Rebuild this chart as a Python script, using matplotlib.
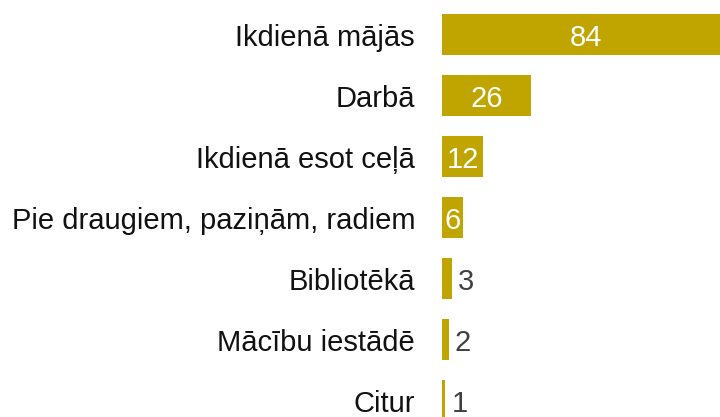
import matplotlib.pyplot as plt

# data
categories = ["Ikdienā mājās", "Darbā", "Ikdienā esot ceļā",
              "Pie draugiem, paziņām, radiem", "Bibliotēkā",
              "Mācību iestādē", "Citur"]
values = [84, 26, 12, 6, 3, 2, 1]

bar_color = "#C0A400"
W, H = 720, 417

plt.rcParams["font.family"] = ["Liberation Sans", "DejaVu Sans"]

fig = plt.figure(figsize=(7.2, 4.17), dpi=100)

# axes runs past the right/bottom edge so the chart is clipped like the original
left_px, top_px = 442, 4
px_per_unit = 3.42
row_px = 61
ax_w = values[0] * px_per_unit
ax_h = row_px * len(categories)
ax = fig.add_axes([left_px / W, 1 - (top_px + ax_h) / H, ax_w / W, ax_h / H])

ypos = list(range(len(categories)))
ax.barh(ypos, values, height=0.67, color=bar_color)
ax.set_xlim(0, values[0])
ax.set_ylim(len(categories) - 0.5, -0.5)

fs = 21
for y, v, name in zip(ypos, values, categories):
    ax.annotate(name, xy=(0, y), xytext=(-27, 0), textcoords="offset pixels",
                ha="right", va="center_baseline", fontsize=fs, color="#111111")
    if v >= 6:
        ax.text(v / 2, y, str(v), ha="center", va="center_baseline",
                fontsize=fs, color="white")
    else:
        ax.annotate(str(v), xy=(v, y), xytext=(6, 0), textcoords="offset pixels",
                    ha="left", va="center_baseline", fontsize=fs, color="#404040")

ax.axis("off")
fig.savefig("out.png", dpi=100)
